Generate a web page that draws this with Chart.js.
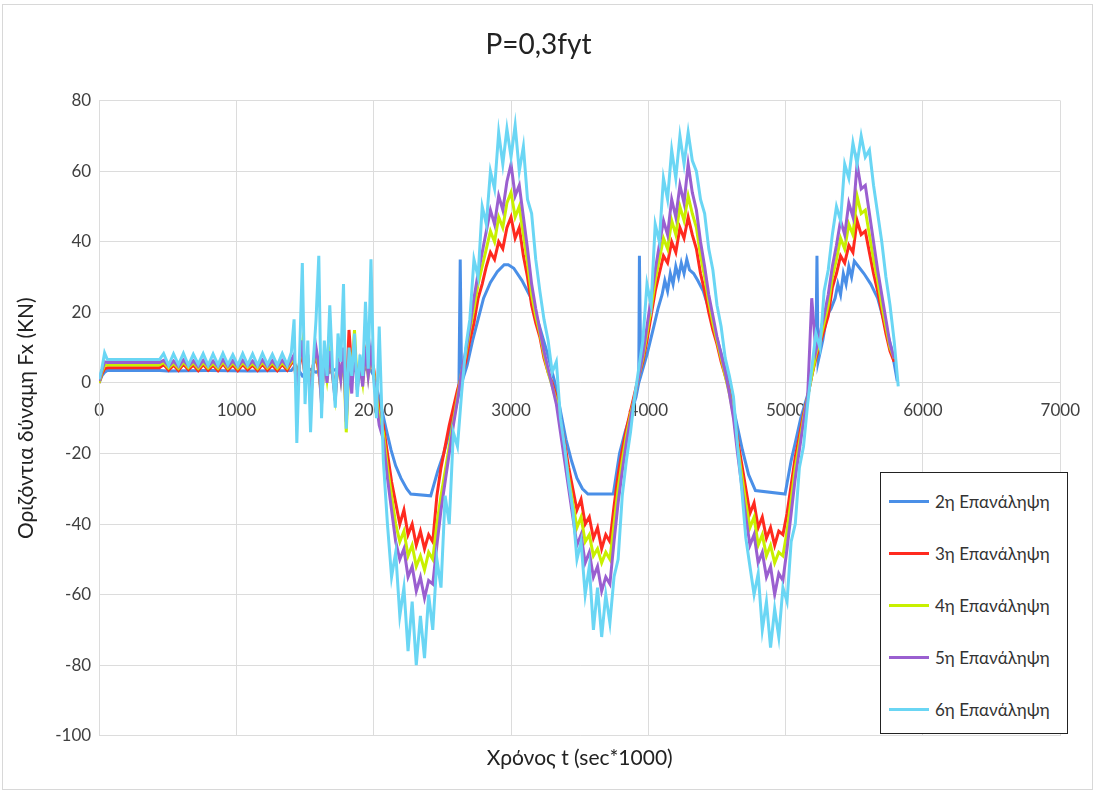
<!DOCTYPE html>
<html>
<head>
<meta charset="utf-8">
<script src="https://cdn.jsdelivr.net/npm/chart.js@4.4.1/dist/chart.umd.min.js"></script>
<style>
  body { margin: 0; background: #fff; }
  #wrap { position: relative; width: 1097px; height: 792px; }
  #frame { position: absolute; left: 2px; top: 4px; right: 4px; bottom: 2px; border: 1px solid #d8d8d8; pointer-events: none; }
  #legend { position: absolute; left: 880px; top: 472px; width: 186px; height: 260px; border: 1.5px solid #222; background: #fff;
            font-family: Lato, "Noto Sans", sans-serif; font-size: 17px; color: #333; }
  #legend .item { position: absolute; left: 8px; height: 20px; display: flex; align-items: center; white-space: nowrap; }
  #legend .swatch { width: 40px; height: 3px; margin-right: 6px; }
</style>
</head>
<body>
<div id="wrap">
  <canvas id="fxChart"></canvas>
  <div id="frame"></div>
  <div id="legend"></div>
</div>
<script>
// Χρόνος t (sec*1000) και δύναμη Fx (KN) ανά επανάληψη

// 2η Επανάληψη (own time base, smoother curve)
const timeBlue = [
  0, 20, 40, 60, 440, 500, 800, 1100, 1400, 1430,
  1480, 1530, 1580, 1630, 1680, 1730, 1780, 1830, 1880, 1930,
  1980, 2000, 2050, 2090, 2126, 2160, 2198, 2240, 2270, 2415,
  2466, 2510, 2540, 2580, 2620, 2630, 2640, 2680, 2720, 2760,
  2800, 2850, 2900, 2950, 2980, 3020, 3080, 3140, 3200, 3260,
  3320, 3360, 3400, 3440, 3480, 3520, 3560, 3745, 3790, 3830,
  3870, 3910, 3930, 3935, 3945, 3990, 4040, 4070, 4100, 4120,
  4140, 4160, 4180, 4200, 4220, 4240, 4260, 4280, 4300, 4330,
  4360, 4400, 4440, 4490, 4540, 4584, 4630, 4685, 4730, 4780,
  4996, 5040, 5070, 5110, 5163, 5200, 5220, 5228, 5236, 5270,
  5300, 5330, 5360, 5380, 5400, 5420, 5440, 5460, 5480, 5500,
  5530, 5570, 5620, 5670, 5720, 5770, 5813
];
const force2 = [
  0, 2, 3, 3.5, 3.5, 3.4, 3.5, 3.4, 3.5, 5,
  2, 4, 3, 4.5, 3, 4, 3.5, 4.5, 3, 4,
  3.5, 2, -6, -13, -19, -23.5, -27, -30, -31.5, -32,
  -25, -20, -15.6, -10, -3, 35, 0, 5, 12, 18,
  24, 28.5, 31.5, 33.5, 33.5, 32.5, 29, 24.5, 17, 9,
  0, -8, -16, -22, -27, -30, -31.5, -31.5, -20, -14,
  -9, -4, 0, 36, 2, 8, 16, 21, 25, 29,
  26, 31, 28, 33, 30, 34, 31, 35, 32, 31,
  29, 26, 21, 14, 7, 0, -9, -19, -26, -30.5,
  -31.5, -22, -17, -10, -3, 4, 8, 36, 6, 12,
  19, 21, 24, 28, 25, 31, 28, 33, 30, 34.5,
  33, 31, 28, 24, 17, 10, 0.5
];

// shared time base for 3η - 6η
const timeMs = [
  0, 20, 40, 60, 100, 200, 300, 440,
  470, 506, 542, 578, 614, 650, 686, 722, 758, 794, 830, 866, 902, 938,
  974, 1010, 1046, 1082, 1118, 1154, 1190, 1226, 1262, 1298, 1334, 1370, 1400,
  1420, 1440, 1460, 1480, 1500, 1520, 1540, 1560,
  1580, 1600, 1620, 1640, 1660, 1680, 1700, 1720,
  1740, 1760, 1780, 1800, 1820, 1840, 1860, 1880,
  1900, 1920, 1940, 1960, 1980, 2000, 2020, 2040,
  2070, 2100, 2130, 2160, 2190, 2220, 2250, 2280, 2310, 2340,
  2370, 2400, 2430, 2460, 2490, 2520, 2550, 2580, 2610, 2640,
  2670, 2700, 2730, 2760, 2790, 2820, 2850, 2880, 2910, 2940,
  2970, 3000, 3030, 3060, 3090, 3120, 3150, 3180, 3210, 3240,
  3270, 3300, 3330, 3360, 3390, 3420, 3450, 3480, 3510, 3540,
  3570, 3600, 3630, 3660, 3690, 3720, 3750, 3780, 3810, 3840,
  3870, 3900, 3930, 3960, 3990, 4020, 4050, 4080, 4110, 4140,
  4170, 4200, 4230, 4260, 4290, 4320, 4350, 4380, 4410, 4440,
  4470, 4500, 4530, 4560, 4590, 4620, 4650, 4680, 4710, 4740,
  4770, 4800, 4830, 4860, 4890, 4920, 4950, 4980, 5010, 5040,
  5070, 5100, 5130, 5160, 5190, 5220, 5250, 5280, 5310, 5340,
  5370, 5400, 5430, 5460, 5490, 5520, 5550, 5580, 5610, 5640,
  5670, 5700, 5730, 5760, 5790, 5820
];

// 3η Επανάληψη
const force3 = [
  0, 2.5, 4, 4.3, 4.3, 4.3, 4.3, 4.3,
  5.2, 3.6, 5, 3.5, 5.3, 3.7, 5.1, 3.5, 5.2, 3.6, 5, 3.5, 5.4, 3.6,
  5.1, 3.5, 5.2, 3.7, 5, 3.5, 5.3, 3.6, 5.1, 3.5, 5.2, 3.6, 5.5,
  6, 0, 5, 9, 2, 6, -2, 5,
  8, 3, -3, 6, 2, 7, 3, -2,
  5, 2, 8, -4, 15, 4, 9, 0,
  4, 1, 8, 3, 7, 4, -2, -8,
  -12, -20, -28, -34, -40, -36, -43, -40, -46, -42,
  -47, -43, -45, -32, -24, -18, -12, -7, -2, 2,
  6, 12, 17, 24, 28, 33, 37, 35, 40, 38,
  44, 47, 41, 44, 36, 30, 22, 17, 13, 7,
  3, 0, -4, -11, -17, -24, -30, -36, -33, -40,
  -38, -44, -41, -47, -43, -45, -35, -26, -19, -13,
  -8, -3, 2, 6, 12, 19, 26, 31, 36, 34,
  40, 37, 44, 41, 47, 42, 38, 31, 26, 20,
  15, 11, 6, 2, -2, -8, -16, -23, -30, -37,
  -34, -41, -38, -44, -41, -46, -42, -43, -37, -29,
  -21, -15, -9, -4, 2, 7, 11, 15, 19, 27,
  31, 36, 34, 39, 37, 46, 42, 43, 37, 31,
  26, 20, 14, 9, 6, null
];

// 4η Επανάληψη
const force4 = [
  0, 3, 5, 5.1, 5.1, 5.1, 5.1, 5.1,
  5.8, 4.2, 5.6, 4.1, 5.9, 4.3, 5.7, 4.1, 5.8, 4.2, 5.6, 4.1, 6, 4.2,
  5.7, 4.1, 5.8, 4.3, 5.6, 4.1, 5.9, 4.2, 5.7, 4.1, 5.8, 4.2, 6,
  7, -1, 6, 11, 1, 7, -4, 5,
  9, 4, -5, 7, 1, 8, 2, -4,
  6, 1, 9, -14, 5, 3, 15, -1,
  5, 0, 9, 2, 8, 3, -4, -10,
  -14, -24, -32, -40, -45, -42, -49, -46, -52, -49,
  -53, -48, -50, -40, -32, -25, -18, -11, -4, 3,
  8, 15, 21, 28, 33, 38, 43, 40, 47, 44,
  51, 54, 47, 50, 42, 34, 25, 19, 14, 8,
  3, -1, -5, -12, -19, -27, -34, -41, -38, -45,
  -43, -49, -47, -51, -48, -50, -40, -30, -22, -15,
  -9, -4, 2, 7, 14, 21, 29, 35, 41, 38,
  46, 42, 50, 46, 53, 48, 44, 36, 30, 23,
  17, 12, 7, 2, -3, -9, -18, -26, -34, -41,
  -38, -46, -43, -49, -46, -51, -48, -49, -42, -33,
  -24, -17, -10, -4, 2, 8, 12, 17, 22, 30,
  35, 41, 38, 45, 42, 53, 48, 49, 42, 35,
  29, 22, 16, 10, 7, null
];

// 5η Επανάληψη
const force5 = [
  0.5, 3.5, 6, 5.8, 5.8, 5.8, 5.8, 5.8,
  6.4, 4.7, 6.2, 4.6, 6.5, 4.8, 6.3, 4.6, 6.4, 4.7, 6.2, 4.6, 6.6, 4.7,
  6.3, 4.6, 6.4, 4.8, 6.2, 4.6, 6.5, 4.7, 6.3, 4.6, 6.4, 4.7, 6.6,
  8, -3, 6, 12, 0, 8, -6, 5,
  10, 5, -6, 8, 0, 9, 2, -5,
  7, 1, 10, -11, 6, -3, 11, -2,
  5, -1, 10, 2, 9, 2, -6, -12,
  -16, -27, -36, -45, -50, -47, -55, -52, -59, -55,
  -61, -56, -57, -46, -36, -28, -20, -12, -5, 3,
  9, 16, 24, 31, 37, 43, 49, 45, 53, 49,
  57, 62, 53, 56, 47, 38, 28, 21, 15, 9,
  4, -1, -6, -14, -22, -30, -38, -46, -43, -51,
  -48, -55, -52, -59, -55, -57, -45, -34, -25, -17,
  -10, -4, 2, 8, 16, 24, 32, 39, 46, 42,
  52, 47, 56, 51, 62, 54, 49, 40, 33, 25,
  19, 13, 8, 3, -3, -10, -20, -29, -38, -46,
  -43, -51, -48, -55, -52, -60, -54, -56, -47, -37,
  -27, -19, -11, -4, 24, 9, 14, 19, 25, 33,
  39, 46, 42, 51, 47, 62, 55, 56, 48, 40,
  32, 25, 18, 11, 7, null
];

// 6η Επανάληψη
const force6 = [
  1, 4, 8.5, 6.6, 6.6, 6.6, 6.6, 6.6,
  8.3, 5, 8.2, 5.2, 8.4, 5, 8.1, 5.3, 8.3, 5, 8.2, 5.1, 8.4, 5.2,
  8, 5, 8.3, 5.1, 8.2, 5, 8.4, 5.2, 8.1, 5, 8.3, 5.1, 8.6,
  18, -17, 8, 34, -6, 12, -14, 6,
  18, 36, -10, 12, 2, 22, 4, -7,
  14, 6, 28, -13, 10, 2, 14, -4,
  8, 2, 23, 4, 35, 1, -10, 16,
  -22, -40, -55, -48, -66, -58, -76, -62, -80, -66,
  -78, -60, -70, -50, -58, -32, -40, -14, -18, -3,
  10, 18, 35, 30, 50, 45, 60, 55, 71, 62,
  72, 64, 73, 60, 67, 52, 48, 35, 26, 18,
  12, 3, 6, -10, -18, -28, -36, -50, -45, -60,
  -52, -70, -58, -72, -60, -68, -55, -50, -32, -22,
  -14, -4, 4, 12, 28, 22, 45, 40, 58, 52,
  66, 58, 70, 62, 71, 63, 60, 52, 48, 38,
  32, 22, 16, 7, 2, -4, -18, -30, -44, -52,
  -60, -54, -70, -62, -75, -64, -72, -58, -62, -45,
  -40, -24, -18, -6, 4, 14, 10, 26, 32, 42,
  50, 46, 62, 58, 68, 62, 70, 64, 66, 56,
  48, 40, 30, 22, 12, -1
];

const seriesNames = ["2η Επανάληψη", "3η Επανάληψη", "4η Επανάληψη", "5η Επανάληψη", "6η Επανάληψη"];
const seriesColors = ["#4a8fe7", "#ff2a1f", "#c8f000", "#9a5fd0", "#6ad6f4"];

[force3, force4, force5, force6].forEach((f, i) => {
    if (f.length !== timeMs.length) throw new Error("length mismatch series " + (i + 3) + ": " + f.length + " vs " + timeMs.length);
});
if (force2.length !== timeBlue.length) throw new Error("length mismatch blue: " + force2.length + " vs " + timeBlue.length);

const toPoints = (ts, vs) => ts.map((t, i) => ({ x: t, y: vs[i] }));
const seriesPoints = [
    toPoints(timeBlue, force2),
    toPoints(timeMs, force3),
    toPoints(timeMs, force4),
    toPoints(timeMs, force5),
    toPoints(timeMs, force6),
];

Chart.defaults.font.family = "Lato, 'Noto Sans', sans-serif";
Chart.defaults.color = "#404040";

const gridColor = "#dcdcdc";

const chart = new Chart(document.getElementById("fxChart"), {
    type: "line",
    data: {
        datasets: seriesPoints.map((pts, i) => ({
            label: seriesNames[i],
            data: pts,
            borderColor: seriesColors[i],
            backgroundColor: seriesColors[i],
            borderWidth: 3,
            pointRadius: 0,
            tension: 0,
            order: 5 - i, // last series drawn on top, as in the original
        })),
    },
    options: {
        responsive: true,
        maintainAspectRatio: false,
        animation: false,
        layout: { autoPadding: false, padding: { left: 10, right: 30, top: 0, bottom: 17 } },
        plugins: {
            legend: { display: false },
            tooltip: { enabled: false },
            title: {
                display: true,
                text: "P=0,3fyt",
                color: "#222",
                font: { size: 28, weight: "normal" },
                padding: { top: 28, bottom: 39 },
            },
        },
        scales: {
            // tick labels sit on the zero line, drawn above the curves
            x: {
                type: "linear",
                min: 0,
                max: 7000,
                position: { y: 0 },
                z: 1,
                ticks: {
                    stepSize: 1000,
                    padding: 17,
                    font: { size: 17 },
                    maxRotation: 0,
                    callback: (v) => String(v),
                },
                grid: { display: false, drawTicks: false },
                border: { display: false },
            },
            // bottom axis: vertical grid lines and the axis title
            x2: {
                type: "linear",
                axis: "x",
                min: 0,
                max: 7000,
                position: "bottom",
                ticks: { display: false, stepSize: 1000 },
                grid: { display: true, color: gridColor, drawTicks: false },
                border: { display: false },
                title: {
                    display: true,
                    text: "Χρόνος t (sec*1000)",
                    color: "#222",
                    font: { size: 21 },
                    padding: { top: 10, bottom: 4 },
                },
            },
            y: {
                min: -100,
                max: 80,
                ticks: { stepSize: 20, padding: 8, font: { size: 17 } },
                grid: { color: gridColor, drawTicks: false },
                border: { color: gridColor },
                title: {
                    display: true,
                    text: "Οριζόντια δύναμη Fx (KN)",
                    color: "#222",
                    font: { size: 21 },
                    padding: { top: 4, bottom: 8 },
                },
            },
        },
    },
});

// Legend box inside the plot, bottom right
const legendBox = document.getElementById("legend");
chart.data.datasets.forEach((ds, i) => {
    const item = document.createElement("div");
    item.className = "item";
    item.style.top = (18 + i * 52) + "px";
    const sw = document.createElement("span");
    sw.className = "swatch";
    sw.style.background = ds.borderColor;
    const txt = document.createElement("span");
    txt.textContent = ds.label;
    item.appendChild(sw);
    item.appendChild(txt);
    legendBox.appendChild(item);
});
</script>
</body>
</html>
